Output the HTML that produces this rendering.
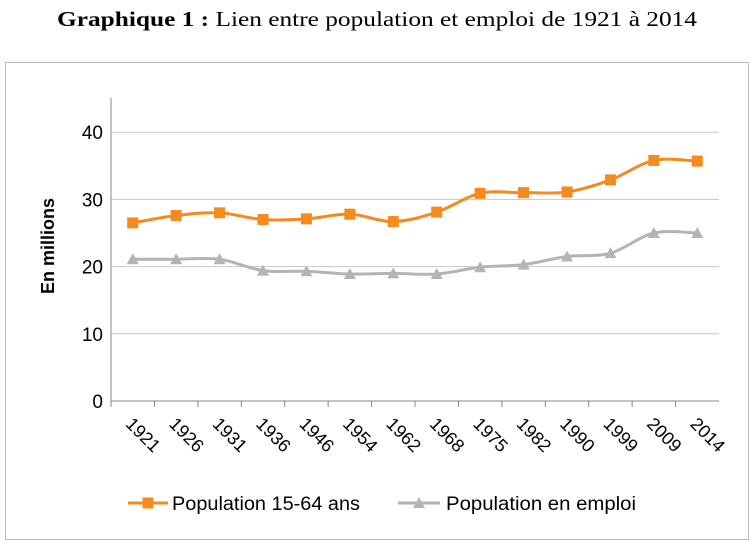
<!DOCTYPE html>
<html><head><meta charset="utf-8"><style>
body{margin:0;background:#fff;width:754px;height:544px;overflow:hidden}
svg{font-family:"Liberation Sans",sans-serif}
</style></head><body>
<svg id="c" width="754" height="544">
<text x="57" y="26" textLength="640" lengthAdjust="spacingAndGlyphs" font-family="Liberation Serif,serif" font-size="21"><tspan font-weight="bold">Graphique 1 :</tspan> Lien entre population et emploi de 1921 à 2014</text>
<rect x="5.5" y="62.5" width="743" height="477" fill="none" stroke="#bbb"/>
<g id="plot"></g>
</svg>
<script>
const categories=["1921","1926","1931","1936","1946","1954","1962","1968","1975","1982","1990","1999","2009","2014"];
const population=[26.5,27.6,28.0,27.0,27.1,27.8,26.7,28.1,30.9,31.0,31.1,32.9,35.8,35.7];
const emploi=[21.1,21.1,21.1,19.4,19.3,18.9,19.0,18.9,19.9,20.3,21.5,22.0,25.0,25.0];
const yTicks=[0,10,20,30,40];
const NS="http://www.w3.org/2000/svg";
const g=document.getElementById('plot');
const x0=111,x1=719,yb=401,yt=98;
const step=(x1-x0)/categories.length;
const xs=i=>x0+step*(i+0.5);
const ys=v=>yb-v*6.72;
function el(t,a,p){const e=document.createElementNS(NS,t);for(const k in a)e.setAttribute(k,a[k]);(p||g).appendChild(e);return e;}
yTicks.forEach(t=>{
 const l=el('line',{x1:x0,x2:x1,y1:ys(t),y2:ys(t),stroke:t===0?'#888':'#c8c8c8'});
 
 
 const tx=el('text',{x:x0-8,y:ys(t)+7,'text-anchor':'end','font-size':19});
 tx.textContent=t;
 
 
});
const ax=el('line',{x1:x0,x2:x0,y1:yt,y2:yb,stroke:'#888'});


categories.forEach((c,i)=>{
 const tk=el('line',{x1:x0+step*i,x2:x0+step*i,y1:yb,y2:yb+6,stroke:'#888'});
 
 
 const t=el('text',{x:xs(i)-8,y:yb+24,'font-size':18,transform:`rotate(45 ${xs(i)-8} ${yb+24})`});
 t.textContent=c;
 
 
});
const yl=el('text',{x:0,y:0,'font-size':18,'font-weight':'bold','text-anchor':'middle',transform:'translate(54 246) rotate(-90)'});
yl.textContent='En millions';


function smooth(pts){let d=`M${pts[0][0]},${pts[0][1]}`;for(let i=0;i<pts.length-1;i++){const p0=pts[i-1]||pts[i],p1=pts[i],p2=pts[i+1],p3=pts[i+2]||p2;const t=6;d+=` C${p1[0]+(p2[0]-p0[0])/t},${p1[1]+(p2[1]-p0[1])/t} ${p2[0]-(p3[0]-p1[0])/t},${p2[1]-(p3[1]-p1[1])/t} ${p2[0]},${p2[1]}`;}return d;}
function series(vals,color,shape,name){
 const p=el('path',{d:smooth(vals.map((v,i)=>[xs(i),ys(v)])),fill:'none',stroke:color,'stroke-width':3});
 
 
 vals.forEach((v,i)=>{
  const x=xs(i),y=ys(v);
  const m=shape==='sq'?el('rect',{x:x-5.5,y:y-5.5,width:11,height:11,fill:color}):el('polygon',{points:`${x},${y-6} ${x+6},${y+5} ${x-6},${y+5}`,fill:color});
  
  
 });
}
series(emploi,'#b4b4b4','tri','emploi');
series(population,'#f58a1f','sq','population');
const lg=el('g',{});


el('line',{x1:128,x2:168,y1:503,y2:503,stroke:'#f58a1f','stroke-width':3},lg);
el('rect',{x:142.5,y:497.5,width:11,height:11,fill:'#f58a1f'},lg);
const t1=el('text',{x:172,y:510,'font-size':19,textLength:188,lengthAdjust:'spacingAndGlyphs'},lg);t1.textContent='Population 15-64 ans';


el('line',{x1:398,x2:440,y1:503,y2:503,stroke:'#b4b4b4','stroke-width':3},lg);
el('polygon',{points:'419,497 425,508 413,508',fill:'#b4b4b4'},lg);
const t2=el('text',{x:446,y:510,'font-size':19,textLength:190,lengthAdjust:'spacingAndGlyphs'},lg);t2.textContent='Population en emploi';


</script>
</body></html>
